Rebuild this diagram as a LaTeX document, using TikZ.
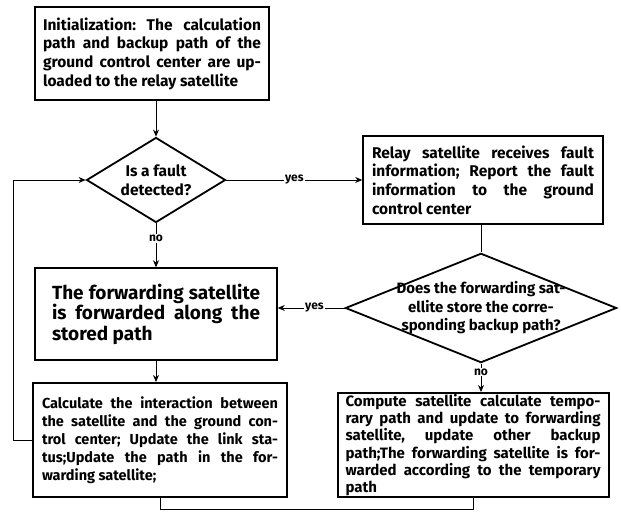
\documentclass[tikz,border=0pt]{standalone}
\usepackage{fontspec}
\setmainfont{Fira Sans}
\usetikzlibrary{shapes.geometric,arrows.meta}
\newcommand{\nohyphens}{\frenchspacing\hyphenpenalty=10000\relax}
\tikzset{
box/.style={
  draw,
  rectangle,
  line width=1.5pt,
  align=justify,
  inner xsep=8pt,
  inner ysep=0pt,
  font=\bfseries\fontsize{15.5}{18.7}\selectfont\nohyphens
},
decision/.style={
  draw,
  diamond,
  line width=1.8pt,
  align=center,
  inner sep=0pt,
  font=\bfseries\fontsize{15.5}{18.5}\selectfont
},
line/.style={line width=0.8pt},
arrow/.style={line,-{Stealth[length=7pt,width=6pt]}},
tag/.style={fill=white,inner sep=1pt,font=\bfseries\fontsize{12}{14}\selectfont},
}

\begin{document}
\begin{tikzpicture}[x=1pt,y=-1pt]
\useasboundingbox (0,0) rectangle (621,516);
% the boxes
\node[box,text width=218pt,minimum width=234pt,minimum height=93pt] (init) at (152,53.5)
  {Initialization: The calculation\linebreak path and backup path of the\linebreak ground control center are up-\linebreak loaded to the relay satellite};
\node[decision,aspect=1.64,minimum width=139pt,minimum height=85pt] (fault) at (156,180)
  {Is a fault\\detected?};
\node[box,text width=222pt,minimum width=240pt,minimum height=88pt] (report) at (483,180)
  {Relay satellite receives fault\linebreak information; Report the fault\linebreak information to the ground\linebreak control center};
\node[decision,aspect=2.48,inner xsep=-14pt,minimum width=268pt,minimum height=108pt,
  font=\bfseries\fontsize{15}{18.5}\selectfont] (backup) at (481,308)
  {Does the forwarding sat-\\ellite store the corre-\\sponding backup path?};
\node[box,text width=208pt,minimum width=242pt,minimum height=92pt,
  font=\bfseries\fontsize{19}{20.5}\selectfont\nohyphens] (stored) at (156,314)
  {The forwarding satellite\linebreak is forwarded along the\linebreak stored path};
\node[box,line width=2pt,text width=255pt,minimum width=268pt,minimum height=104pt,
  font=\bfseries\fontsize{15}{17.3}\selectfont\nohyphens] (temp) at (473,445)
  {Compute satellite calculate tempo-\linebreak rary path and update to forwarding\linebreak satellite, update other backup\linebreak path;The forwarding satellite is for-\linebreak warded according to the temporary\linebreak path};
\node[box,line width=2pt,text width=236pt,minimum width=254pt,minimum height=114pt,
  font=\bfseries\fontsize{14.5}{18}\selectfont\nohyphens] (update) at (160,440)
  {Calculate the interaction between\linebreak the satellite and the ground con-\linebreak trol center; Update the link sta-\linebreak tus;Update the path in the for-\linebreak warding satellite;};
% the connectors
\draw[arrow] (fault.north |- init.south) -- (fault.north);
\draw[arrow] (fault.east) -- node[tag] {yes} (report.west);
\draw[line] (backup.north |- report.south) -- (backup.north);
\draw[arrow] (fault.south) -- node[tag,pos=0.35] {no} (fault.south |- stored.north);
\draw[arrow] (backup.west) -- node[tag,pos=0.45] {yes} (backup.west -| stored.east);
\draw[arrow] (backup.south) -- node[tag,pos=0.3] {no} (backup.south |- temp.north);
\draw[arrow] (stored.south) -- (stored.south |- update.north);
\draw[line] (temp.south) -- ++(0,11) -| (update.south);
\draw[arrow] (update.west) -- ++(-19,0) |- (fault.west);
\end{tikzpicture}
\end{document}
